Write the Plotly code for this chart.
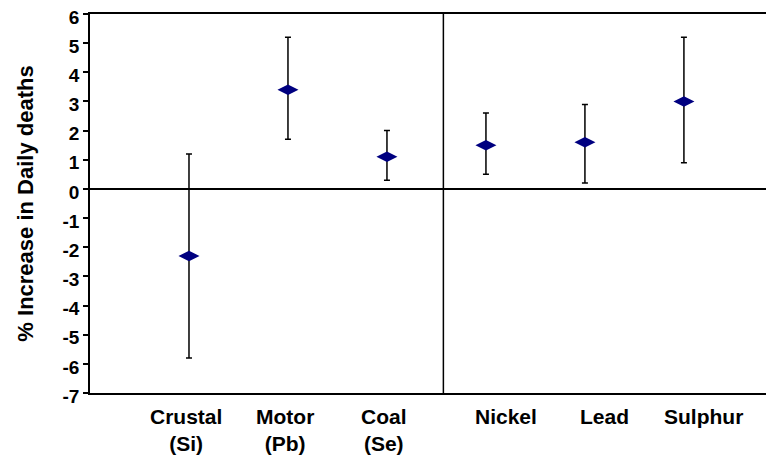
import plotly.graph_objects as go

sources = ["Crustal<br>(Si)", "Motor<br>(Pb)", "Coal<br>(Se)", "Nickel", "Lead", "Sulphur"]
estimate = [-2.3, 3.4, 1.1, 1.5, 1.6, 3.0]
upper = [1.2, 5.2, 2.0, 2.6, 2.9, 5.2]
lower = [-5.8, 1.7, 0.3, 0.5, 0.2, 0.9]
y_ticks = [6, 5, 4, 3, 2, 1, 0, -1, -2, -3, -4, -5, -6, -7]
y_tick_labels = ["6", "5", "4", "3", "2", "1", "0", "-1", "-2", "-3", "-4", "-5", "-6", "-7"]

xpos = list(range(1, len(sources) + 1))
err_plus = [u - e for u, e in zip(upper, estimate)]
err_minus = [e - l for e, l in zip(estimate, lower)]

FONT = "Liberation Sans, Arial, sans-serif"

fig = go.Figure()
fig.add_trace(go.Scatter(
    x=xpos, y=estimate, mode="markers",
    marker=dict(symbol="diamond-wide", size=15, color="#000080"),
    error_y=dict(type="data", symmetric=False, array=err_plus, arrayminus=err_minus,
                 color="black", thickness=1.5, width=3),
    showlegend=False,
))

# category labels below the axis
for i, lab in enumerate(sources):
    fig.add_annotation(x=xpos[i], y=0, yref="paper", yanchor="top", yshift=-10,
                       xshift=(-3 if i < 3 else 20),
                       text=lab, showarrow=False,
                       font=dict(family=FONT, size=21, color="black", weight="bold"),
                       align="center")

# divider between groups
fig.add_shape(type="line", x0=3.57, x1=3.57, y0=0, y1=1, xref="x", yref="paper",
              line=dict(color="black", width=1.5))

fig.update_layout(
    width=766, height=452,
    margin=dict(l=82, r=0, t=6, b=67),
    paper_bgcolor="white", plot_bgcolor="white",
    font=dict(family=FONT, color="black"),
    xaxis=dict(range=[0, 6.91], showticklabels=False, ticks="", showgrid=False,
               zeroline=False, showline=True, linecolor="black", linewidth=1.5, mirror=True),
    yaxis=dict(range=[-7, 6], tickvals=y_ticks, ticktext=y_tick_labels,
               ticks="outside", ticklen=5, tickcolor="black", tickwidth=1.5,
               tickfont=dict(family=FONT, size=19, color="black", weight="bold"),
               ticklabeloverflow="allow", ticklabelshift=3,
               showgrid=False, zeroline=True, zerolinecolor="black", zerolinewidth=1.5,
               showline=True, linecolor="black", linewidth=1.5, automargin=False,
               title=dict(text="% Increase in Daily deaths", standoff=23,
                          font=dict(family=FONT, size=22, color="black", weight="bold"))),
)

fig.write_html("out.html")
